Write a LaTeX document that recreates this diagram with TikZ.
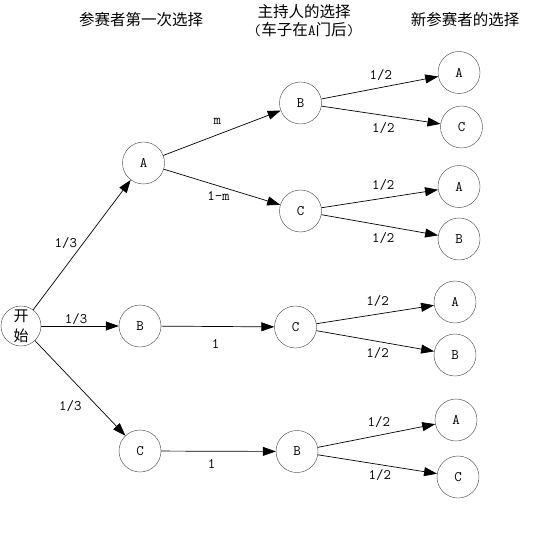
\documentclass[tikz,border=0pt]{standalone}
\usepackage{fontspec}
\newfontfamily\cjk{Noto Sans CJK SC}
\usetikzlibrary{positioning, arrows.meta}

\begin{document}
\begin{tikzpicture}[x=1pt, y=-1pt, thin,
  choice/.style={draw=black!75, circle, minimum size=42pt, inner sep=0pt, font=\fontsize{14.5}{16}\selectfont\ttfamily},
  head/.style={align=center, inner sep=0pt, font=\fontsize{15.5}{17}\selectfont\cjk},
  lbl/.style={inner sep=0pt, font=\fontsize{14.5}{16}\selectfont\ttfamily},
  arr/.style={-{Triangle[length=13pt, width=9pt]}, line width=0.7pt}]
  \useasboundingbox (0,0) rectangle (536,553);

  \node[head](first) at (141,20){参赛者第一次选择};
  \node[head, align=center](host) at (304,21){主持人的选择\\[1pt]{\ttfamily(}车子在{\ttfamily A}门后{\ttfamily)}};
  \node[head](second) at (465,20){新参赛者的选择};

  \node[choice, minimum size=40pt, font=\fontsize{15}{20}\selectfont\cjk, align=center](start) at (21,326){开\\始};

  \node[choice](pA) at (143.5,163){A};
  \node[choice](pB) at (140,326){B};
  \node[choice](pC) at (140,451){C};

  \node[choice](hAB) at (300.5,103){B};
  \node[choice](hAC) at (300.5,211){C};
  \node[choice](hBC) at (295.5,327){C};
  \node[choice](hCB) at (297,451.5){B};

  \node[choice](nABA) at (459,72.5){A};
  \node[choice](nABC) at (461.5,127){C};
  \node[choice](nACA) at (459,186.5){A};
  \node[choice](nACB) at (459,239){B};
  \node[choice](nBCA) at (455,302){A};
  \node[choice](nBCB) at (455,355){B};
  \node[choice](nCBA) at (456,420){A};
  \node[choice](nCBC) at (458,477){C};

  \draw[arr] (start) -- node[lbl, pos=0.5, xshift=-16pt, yshift=2pt]{1/3}(pA);
  \draw[arr] (start) -- node[lbl, pos=0.45, yshift=7pt]{1/3}(pB);
  \draw[arr] (start) -- node[lbl, pos=0.69, xshift=-27pt]{1/3}(pC);

  \draw[arr] (pA) -- node[lbl, pos=0.46, yshift=13pt]{m}(hAB);
  \draw[arr] (pA) -- node[lbl, pos=0.47, yshift=-10pt]{1-m}(hAC);
  \draw[arr] (pB) -- node[lbl, pos=0.48, yshift=-17pt]{1}(hBC);
  \draw[arr] (pC) -- node[lbl, pos=0.44, yshift=-12.5pt]{1}(hCB);

  \draw[arr] (hAB) -- node[lbl, pos=0.51, yshift=12pt]{1/2}(nABA);
  \draw[arr] (hAB) -- node[lbl, pos=0.52, yshift=-12.5pt]{1/2}(nABC);
  \draw[arr] (hAC) -- node[lbl, pos=0.53, yshift=13pt]{1/2}(nACA);
  \draw[arr] (hAC) -- node[lbl, pos=0.53, yshift=-12.5pt]{1/2}(nACB);
  \draw[arr] (hBC) -- node[lbl, pos=0.52, yshift=13pt]{1/2}(nBCA);
  \draw[arr] (hBC) -- node[lbl, pos=0.52, yshift=-12pt]{1/2}(nBCB);
  \draw[arr] (hCB) -- node[lbl, pos=0.52, yshift=13pt]{1/2}(nCBA);
  \draw[arr] (hCB) -- node[lbl, pos=0.52, yshift=-10.5pt]{1/2}(nCBC);
\end{tikzpicture}
\end{document}
